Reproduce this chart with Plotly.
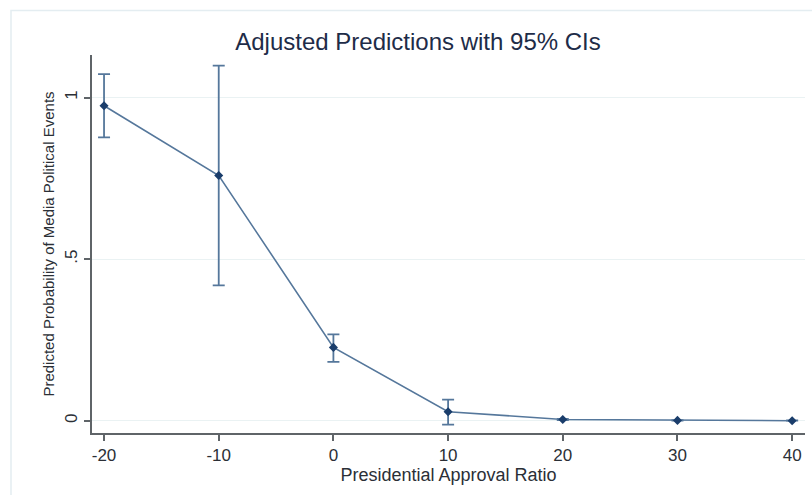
import plotly.graph_objects as go

# Adjusted predictions with 95% confidence intervals
approval = [-20, -10, 0, 10, 20, 30, 40]
predicted = [0.975, 0.759, 0.227, 0.028, 0.004, 0.001, 0.000]
ci_upper = [1.073, 1.099, 0.267, 0.065, 0.006, 0.002, 0.001]
ci_lower = [0.877, 0.419, 0.182, -0.012, 0.002, 0.000, 0.000]

x_ticks = [-20, -10, 0, 10, 20, 30, 40]
x_ticktext = ["-20", "-10", "0", "10", "20", "30", "40"]
y_ticks = [0, 0.5, 1]
y_ticktext = ["0", ".5", "1"]

W, H = 812, 495
ML, MR, MT, MB = 92, 7, 55, 62
pw, ph = W - ML - MR, H - MT - MB

err_plus = [u - p for u, p in zip(ci_upper, predicted)]
err_minus = [p - l for p, l in zip(predicted, ci_lower)]

line_col = "#55779b"
mark_col = "#1a3d6b"
axis_col = "#5f6468"
text_col = "#2b2f36"
font = "Liberation Sans, Arial, sans-serif"

fig = go.Figure()
fig.add_trace(go.Scatter(
    x=approval, y=predicted,
    mode="lines+markers",
    line=dict(color=line_col, width=1.6),
    marker=dict(symbol="diamond", size=7, color=mark_col),
    error_y=dict(type="data", symmetric=False, array=err_plus, arrayminus=err_minus,
                 color=line_col, thickness=1.8, width=6),
    showlegend=False,
))

# light outer frame around the graph region
def px_x(p):
    return (p - ML) / pw

def px_y(p):
    return (H - MB - p) / ph

fig.add_shape(type="path", xref="paper", yref="paper",
              path=f"M {px_x(11)} {px_y(H + 5)} L {px_x(11)} {px_y(10.5)} L {px_x(W + 5)} {px_y(10.5)}",
              line=dict(color="#e4edf1", width=1.5), layer="below")

fig.update_layout(
    width=W, height=H,
    margin=dict(l=ML, r=MR, t=MT, b=MB),
    paper_bgcolor="white", plot_bgcolor="white",
    font=dict(family=font, color=text_col),
    title=dict(text="Adjusted Predictions with 95% CIs", x=418 / W, xanchor="center",
               y=1 - 42 / H, yanchor="middle", xref="container", yref="container",
               font=dict(size=24, color="#1e2c48", family=font)),
    xaxis=dict(range=[-21.05, 41.12], tickvals=x_ticks, ticktext=x_ticktext,
               ticks="outside", ticklen=6,
               tickwidth=1.5, tickcolor=axis_col, showline=True, linecolor=axis_col,
               linewidth=2, showgrid=False, zeroline=False,
               tickfont=dict(size=17, color=text_col, family=font),
               title=dict(text="Presidential Approval Ratio", standoff=0,
                          font=dict(size=18, color=text_col, family=font))),
    yaxis=dict(range=[-0.038, 1.132], tickvals=y_ticks, ticktext=y_ticktext,
               tickangle=-90, ticks="outside", ticklen=6, tickwidth=1.5,
               tickcolor=axis_col, showline=True, linecolor=axis_col, linewidth=2,
               showgrid=True, gridcolor="#eaf2f3", gridwidth=1, zeroline=False,
               tickfont=dict(size=17, color=text_col, family=font),
               title=dict(text="Predicted Probability of Media Political Events", standoff=4,
                          font=dict(size=15, color=text_col, family=font))),
)

fig.write_html("out.html")
